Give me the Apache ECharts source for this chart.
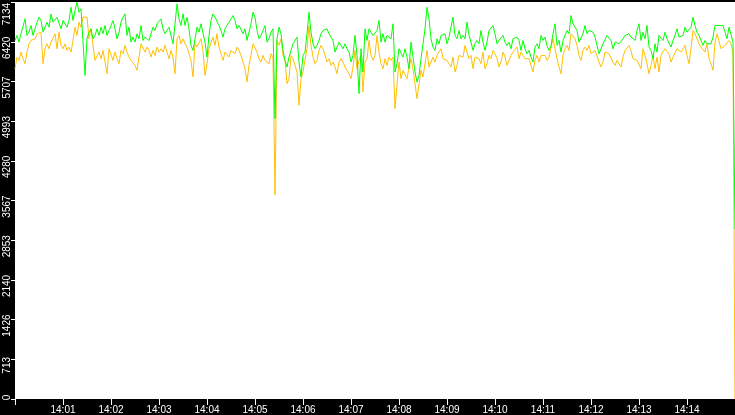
<!DOCTYPE html>
<html><head><meta charset="utf-8">
<script src="https://cdn.jsdelivr.net/npm/echarts@6/dist/echarts.min.js"></script>
<style>html,body{margin:0;padding:0;background:#000}#c{width:735px;height:415px}</style>
</head><body><div id="c"></div>
<script>
const startTime = new Date(2024, 0, 1, 14, 0, 0).getTime();
const endTime = new Date(2024, 0, 1, 14, 15, 0).getTime();
const stepMs = 2500;
const yTickLabels = ['0','713','1426','2140','2853','3567','4280','4993','5707','6420','7134'];

const greenValues = [
6445,6535,6415,6565,6535,6833,6535,6594,6714,6535,
6654,6774,6863,6804,6594,6684,6774,6684,6923,6774,
6804,6863,6863,6654,6804,6774,6684,6804,7042,6804,
6983,7132,6953,7013,6983,5818,6475,6594,6654,6475,
6535,6654,6535,6684,6565,6714,6535,6624,6714,6804,
6654,6475,6594,6774,6863,6923,6535,6684,6415,6505,
6415,6565,6475,6714,6445,6505,6535,6445,6445,6684,
6624,6744,6714,6833,6654,6565,6624,6684,6535,6385,
6356,7102,6833,6714,6923,6714,6863,6654,6356,6266,
6475,6684,6594,
6744,6714,6415,6146,6535,6804,6923,6863,6893,6714,
6624,6505,6654,6714,6774,6833,6893,6804,6654,6714,
6714,6565,6654,6445,6415,6744,6953,6863,6624,6475,
6535,6624,6714,6415,6475,6594,6654,5041,6475,6684,
6565,6266,6087,5967,6146,6176,6385,6356,6505,6057,
5788,6176,6236,6565,6953,6594,6385,6296,6356,6445,
6565,6624,6654,6654,6565,6505,6445,6236,6326,6415,
6356,6296,6385,6296,6236,6057,6176,6535,6176,5489,
6296,5878,6654,6445,6654,6594,6535,6535,6624,6804,
6415,6565,6415,6535,6565,6475,6744,5878,6027,6296,
6296,6146,6296,6146,5937,6415,6146,5878,5698,5818,
6117,6385,6654,7042,6833,6475,6326,6266,6475,6385,
6535,6505,6565,6385,6505,6475,6863,6535,6475,6624,
6475,6535,6475,6774,6535,6415,6266,6385,6445,6385,
6624,6415,6266,6415,6624,6624,6714,6565,6385,6445,
6415,6535,6415,6356,6415,6296,6475,6505,6505,6445,
6266,6445,6296,6206,6266,6146,6057,6326,6385,6296,
6535,6445,6505,6356,6266,6356,6565,6744,6356,6445,
6236,6445,6475,6624,6565,
6893,6744,6774,6624,6415,6415,6565,6714,6565,6624,
6594,6594,6505,6535,6206,6236,6385,6415,6535,6565,
6445,6296,6415,6415,6385,6385,6475,6535,6505,6565,
6505,6535,6445,6624,6744,6445,6594,6475,6714,6326,
6266,6117,6385,6236,6535,6565,6445,6594,6475,6475,
6326,6445,6535,6654,6505,6535,6535,6684,6594,6565,
6684,6863,6714,6594,6535,6445,6356,6445,6385,6415,
6385,6505,6714,6744,6714,6714,6714,6594,6475,6684,
6684,6415,
3050
];

const orangeValues = [
5937,6146,6087,6236,6117,6027,6236,6385,6445,6415,
6475,6565,6565,6594,6027,6296,6385,6296,6415,6385,
6565,6296,6594,6356,6296,6385,6266,6326,6236,6445,
6684,6535,6774,6684,6863,6833,6863,6475,6654,6356,
6087,6057,6236,6117,6266,6236,5848,6296,6326,6087,
6236,6117,6027,6266,6206,6356,6236,6146,6087,6117,
5997,5908,6146,6385,6415,6236,6326,6266,6146,6266,
6176,6326,6236,6296,6236,6356,6236,6117,6266,6146,
5848,6475,6535,6385,6475,6385,6326,6206,6087,5788,
6385,6326,6296,
6475,6266,5818,6027,6296,6296,6505,6356,6565,6326,
6206,6087,6236,6236,6146,6266,6296,6206,6326,6266,
6176,6057,5937,5698,5997,6176,6385,6415,6236,6117,
6057,6176,6087,6057,6027,6206,6146,3670,6445,6356,
6475,6176,6087,5669,5758,6176,6117,6146,5878,5280,
5758,5878,5848,6296,6714,6356,6146,6027,6087,6266,
6356,6296,6176,6057,6117,5997,6057,5967,5848,6057,
6117,6057,5967,5967,5848,5758,5967,6266,5937,6087,
6176,5519,6057,6117,6445,6176,6087,6176,6535,6236,
6027,5937,6117,5997,6146,6087,6146,5221,5639,6057,
5758,5908,5908,5758,5967,6117,5937,5937,5400,5430,
5908,5788,5818,6266,5967,5997,6146,6057,6176,6146,
6296,6117,6087,6087,6117,5967,6146,5878,5997,6176,
6146,6146,6356,6236,6117,6176,5937,6146,6176,6117,
6027,6236,5937,6027,6176,6117,6266,6206,6117,5967,
6057,6236,6146,5997,6027,6176,6236,6236,6326,6117,
6236,6176,6117,6087,6117,5997,5878,6087,6176,6057,
6176,6176,6176,6087,6146,6176,6475,6475,6117,5967,
5848,6176,6296,6356,6266,
6565,6535,6475,6356,6176,6087,6266,6326,6266,6356,
6206,6236,6266,6296,6057,5967,6057,6236,6236,6206,
6206,6057,5997,6087,6057,5967,6146,6266,6236,6356,
6266,6117,6146,6087,6087,5937,6296,6176,6027,5848,
5997,6176,5937,6146,5878,6176,6146,6296,6326,6206,
6057,6146,6146,6296,6326,6236,6266,6356,6176,6027,
6296,6624,6565,6535,6385,6326,6356,6236,6385,6117,
6027,5908,6415,6565,6535,6296,6266,6356,6326,6445,
6385,6236,
0
];

function toPairs(vals) { return vals.map(function (v, i) { return [startTime + i * stepMs, v]; }); }
function pad2(n) { return (n < 10 ? '0' : '') + n; }

const labelFont = { color: '#fff', fontFamily: 'Liberation Sans', fontSize: 10 };
const chart = echarts.init(document.getElementById('c'), null, { renderer: 'canvas' });
chart.setOption({
  animation: false,
  backgroundColor: '#000',
  grid: { left: 15, right: 0, top: -1, bottom: 16, show: true, backgroundColor: '#fff', borderWidth: 0 },
  xAxis: {
    type: 'time', min: startTime, max: endTime, minInterval: 60000, maxInterval: 60000,
    axisLine: { show: false },
    axisTick: { show: true, length: 6, lineStyle: { color: '#fff', width: 1 } },
    splitLine: { show: false },
    axisLabel: Object.assign({}, labelFont, {
      margin: 6, showMinLabel: false, showMaxLabel: false, hideOverlap: false,
      formatter: function (v) {
        if (v <= startTime || v >= endTime) return '';
        const d = new Date(v);
        return pad2(d.getHours()) + ':' + pad2(d.getMinutes());
      }
    })
  },
  yAxis: {
    type: 'value', min: 0, max: 7134, interval: 713.4,
    axisLine: { show: false },
    axisTick: { show: true, length: 4, lineStyle: { color: '#fff', width: 1 } },
    splitLine: { show: false },
    axisLabel: Object.assign({}, labelFont, {
      rotate: 90, margin: 3, showMinLabel: true, showMaxLabel: true,
      formatter: function (v) {
        const k = Math.round(v / 713.4);
        const s = yTickLabels[k];
        if (k === 0) return '{z|' + s + '}';
        if (k === yTickLabels.length - 1) return '{t|' + s + '}';
        return '{n|' + s + '}';
      },
      rich: {
        n: Object.assign({}, labelFont, { padding: [0, 12, 0, 0] }),
        z: Object.assign({}, labelFont, { padding: [0, 0, 0, 3] }),
        t: Object.assign({}, labelFont, { padding: [0, 24, 0, 0] })
      }
    })
  },
  series: [
    { name: 'Orange', type: 'line', data: toPairs(orangeValues), showSymbol: false, symbol: 'none',
      lineStyle: { color: '#FFC000', width: 1 }, itemStyle: { color: '#FFC000' }, silent: true, sampling: null },
    { name: 'Green', type: 'line', data: toPairs(greenValues), showSymbol: false, symbol: 'none',
      lineStyle: { color: '#00FF00', width: 1 }, itemStyle: { color: '#00FF00' }, silent: true, sampling: null }
  ]
});
</script>
</body></html>
